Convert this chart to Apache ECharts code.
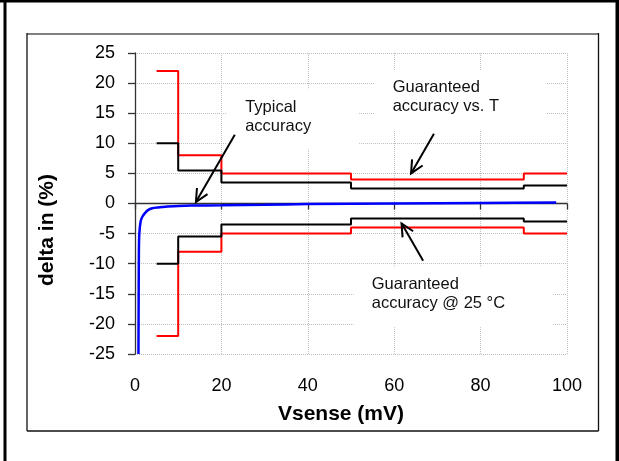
<!DOCTYPE html>
<html><head><meta charset="utf-8">
<script src="https://cdn.jsdelivr.net/npm/echarts@6/dist/echarts.min.js"></script>
<style>html,body{margin:0;padding:0;background:#fff}#c{width:619px;height:461px}</style>
</head><body><div id="c"></div>
<script>
// ---- data ----
const xBreaks = [5, 10, 20, 50, 90, 100];
const redUpper = [22, 8, 5, 4, 5, 5];
const redLower = [-22, -8, -5, -4, -5, -5];
const blackUpper = [10, 5.5, 3.5, 2.5, 3, 3];
const blackLower = [-10, -5.5, -3.5, -2.5, -3, -3];
const typicalX = [0.8, 0.85, 0.9, 1.0, 1.3, 1.7, 2.3, 3, 4, 5.5, 7, 10, 13, 20, 30, 40, 60, 80, 97.5];
const typicalY = [-25, -15, -8, -5, -3, -2.2, -1.6, -1.1, -0.8, -0.65, -0.53, -0.42, -0.35, -0.3, -0.2, -0.1, 0.02, 0.1, 0.18];
const xTicks = [0, 20, 40, 60, 80, 100];
const yTicks = [-25, -20, -15, -10, -5, 0, 5, 10, 15, 20, 25];
const annText = ['Typical\naccuracy', 'Guaranteed\naccuracy vs. T', 'Guaranteed\naccuracy @ 25 °C'];
const annX = [25.5, 59.65, 54.8];
const annY = [17.6, 20.8, -11.9];
const arrowFromX = [23.1, 69.2, 66.7];
const arrowFromY = [11.4, 11.6, -9.5];
const arrowToX = [14.1, 63.9, 61.7];
const arrowToY = [0.25, 5.0, -3.3];

const FONT = '"Liberation Sans", Arial, Helvetica, sans-serif';
const pair = (xs, ys) => xs.map((x, i) => [x, ys[i]]);
const stepSeries = (name, ys, color) => ({
  name, type: 'line', step: 'end', symbol: 'none', data: pair(xBreaks, ys),
  lineStyle: { color, width: 2 }, itemStyle: { color }, z: 3, silent: true
});
const PAD = [8, 48, 14, 18];

const chart = echarts.init(document.getElementById('c'), null, { renderer: 'canvas' });
chart.setOption({
  animation: false,
  backgroundColor: '#fff',
  textStyle: { fontFamily: FONT },
  grid: { left: 135, right: 52, top: 53, bottom: 107, containLabel: false },
  graphic: [
    { type: 'rect', shape: { x: 0, y: 0, width: 619, height: 2.5 }, style: { fill: '#000' } },
    { type: 'rect', shape: { x: 3.5, y: 0, width: 3, height: 461 }, style: { fill: '#000' } },
    { type: 'rect', shape: { x: 615.5, y: 0, width: 3.5, height: 461 }, style: { fill: '#000' } },
    { type: 'line', shape: { x1: 27, y1: 34, x2: 598, y2: 34 }, style: { stroke: '#808080', lineWidth: 2 } },
    { type: 'line', shape: { x1: 27, y1: 33, x2: 27, y2: 431 }, style: { stroke: '#111', lineWidth: 1.3 } },
    { type: 'line', shape: { x1: 598.5, y1: 33, x2: 598.5, y2: 431 }, style: { stroke: '#111', lineWidth: 1.3 } },
    { type: 'line', shape: { x1: 27, y1: 431, x2: 598.5, y2: 431 }, style: { stroke: '#111', lineWidth: 1.3 } }
  ],
  xAxis: [
    {
      type: 'value', min: xTicks[0], max: xTicks[xTicks.length - 1], interval: 20,
      axisLine: { show: true, onZero: true, lineStyle: { color: '#333', width: 1.3 } },
      axisTick: { show: true, length: 6, lineStyle: { color: '#333', width: 1.3 } },
      axisLabel: { show: false },
      splitLine: { show: true, lineStyle: { color: '#c0c0c0', type: 'dotted', width: 1 } }
    },
    {
      type: 'value', min: xTicks[0], max: xTicks[xTicks.length - 1], interval: 20, position: 'bottom',
      axisLine: { show: false, onZero: false }, axisTick: { show: false }, splitLine: { show: false },
      axisLabel: { color: '#000', fontSize: 18, margin: 23, fontFamily: FONT },
      name: 'Vsense (mV)', nameLocation: 'middle', nameGap: 50,
      nameTextStyle: { color: '#000', fontSize: 21, fontWeight: 'bold', fontFamily: FONT, padding: [0, 20, 0, 0] }
    }
  ],
  yAxis: {
    type: 'value', min: yTicks[0], max: yTicks[yTicks.length - 1], interval: 5,
    axisLine: { show: true, onZero: false, lineStyle: { color: '#333', width: 1.3 } },
    axisTick: { show: true, length: 7, lineStyle: { color: '#333', width: 1.3 } },
    axisLabel: { color: '#000', fontSize: 18, margin: 20, fontFamily: FONT },
    splitLine: { show: true, lineStyle: { color: '#c0c0c0', type: 'dotted', width: 1 } },
    name: 'delta in (%)', nameLocation: 'middle', nameGap: 77,
    nameTextStyle: { color: '#000', fontSize: 21, fontWeight: 'bold', fontFamily: FONT, padding: [0, 53, 0, 0] }
  },
  series: [
    {
      name: 'labels', type: 'custom', z: 2, silent: true,
      data: pair(annX, annY),
      encode: { x: 0, y: 1 },
      renderItem: (params, api) => {
        const p = api.coord([api.value(0), api.value(1)]);
        return {
          type: 'text', x: p[0] - PAD[3], y: p[1] - PAD[0],
          style: {
            text: annText[params.dataIndex], fill: '#111', fontSize: 16.5, fontFamily: FONT,
            lineHeight: 19, align: 'left', verticalAlign: 'top',
            backgroundColor: '#fff', padding: PAD
          }
        };
      }
    },
    stepSeries('Guaranteed accuracy vs. T (upper)', redUpper, '#ff0000'),
    stepSeries('Guaranteed accuracy vs. T (lower)', redLower, '#ff0000'),
    stepSeries('Guaranteed accuracy @ 25 °C (upper)', blackUpper, '#000000'),
    stepSeries('Guaranteed accuracy @ 25 °C (lower)', blackLower, '#000000'),
    {
      name: 'Typical accuracy', type: 'line', symbol: 'none', smooth: 0.3, z: 4, silent: true,
      data: pair(typicalX, typicalY), lineStyle: { color: '#0000ff', width: 2.5 }, itemStyle: { color: '#0000ff' }
    },
    {
      name: 'arrows', type: 'custom', z: 5, silent: true,
      data: arrowFromX.map((x, i) => [x, arrowFromY[i], arrowToX[i], arrowToY[i]]),
      encode: { x: [0, 2], y: [1, 3] },
      renderItem: (params, api) => {
        const a = api.coord([api.value(0), api.value(1)]);
        const b = api.coord([api.value(2), api.value(3)]);
        const ang = Math.atan2(b[1] - a[1], b[0] - a[0]);
        const L = 14, w = 0.45;
        const h1 = [b[0] - L * Math.cos(ang - w), b[1] - L * Math.sin(ang - w)];
        const h2 = [b[0] - L * Math.cos(ang + w), b[1] - L * Math.sin(ang + w)];
        const st = { stroke: '#000', lineWidth: 2, fill: null };
        return {
          type: 'group', children: [
            { type: 'line', shape: { x1: a[0], y1: a[1], x2: b[0], y2: b[1] }, style: st },
            { type: 'polyline', shape: { points: [h1, b, h2] }, style: st }
          ]
        };
      }
    }
  ]
});
</script></body></html>
